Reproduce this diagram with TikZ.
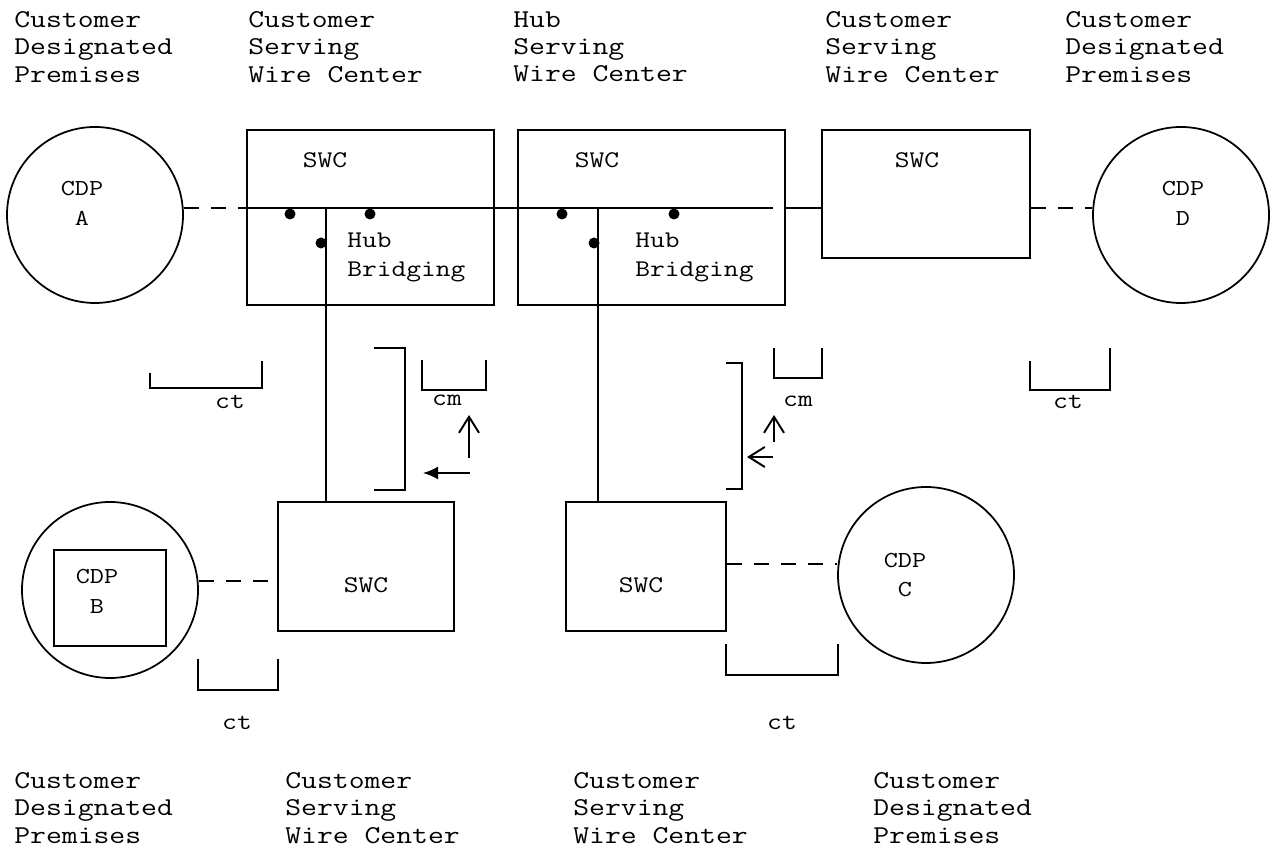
\documentclass[tikz,border=0pt]{standalone}
\usepackage{fontspec}
\setmainfont{Latin Modern Mono}[FakeStretch=1.2]
\usetikzlibrary{arrows.meta}
\setlength{\lineskiplimit}{-20pt}

\tikzset{
  site/.style={draw, line width=1pt, inner sep=0pt},
  cdp/.style={site, circle, minimum size=3.52cm},
  swc/.style={site, rectangle},
  wire/.style={line width=1.1pt},
  dashline/.style={line width=1.1pt, dash pattern=on 0.3cm off 0.24cm},
  tick/.style={line width=1.4pt},
  dot/.style={circle, fill, inner sep=0pt, minimum size=0.22cm},
  head/.style={inner sep=0pt, align=left, anchor=north west,
    font=\fontsize{14.6pt}{15.6pt}\selectfont},
  foot/.style={head},
  txt/.style={inner sep=0pt, align=left, font=\fontsize{13.6pt}{16.5pt}\selectfont},
  cdptxt/.style={inner sep=0pt, align=center, font=\fontsize{13pt}{17pt}\selectfont}
}

\begin{document}
\begin{tikzpicture}[>=latex]
\useasboundingbox (0,0) rectangle (25.5,17.04);

% column headings
\node[head] (hdA) at (0.28,16.82) {Customer\\Designated\\Premises};
\node[head] (hdB) at (4.96,16.82) {Customer\\Serving\\Wire Center};
\node[head] (hdC) at (10.26,16.82) {Hub\\Serving\\Wire Center};
\node[head] (hdD) at (16.5,16.82) {Customer\\Serving\\Wire Center};
\node[head] (hdE) at (21.3,16.82) {Customer\\Designated\\Premises};

\node[foot] (ftA) at (0.28,1.6) {Customer\\Designated\\Premises};
\node[foot] (ftB) at (5.7,1.6) {Customer\\Serving\\Wire Center};
\node[foot] (ftC) at (11.46,1.6) {Customer\\Serving\\Wire Center};
\node[foot] (ftD) at (17.46,1.6) {Customer\\Designated\\Premises};

% premises
\node[cdp] (cdpA) at (1.9,12.74) {};
\node[cdp] (cdpD) at (23.62,12.74) {};
\node[cdp] (cdpB) at (2.2,5.24) {};
\node[cdp] (cdpC) at (18.52,5.54) {};
\node[swc, minimum width=2.24cm, minimum height=1.92cm] (cdpBin) at (2.2,5.08) {};

\node[cdptxt] (txtA) at (1.64,12.98) {CDP\\A};
\node[cdptxt] (txtD) at (23.66,12.98) {CDP\\D};
\node[cdptxt] (txtB) at (1.94,5.22) {CDP\\B};
\node[cdptxt] (txtC) at (18.1,5.54) {CDP\\C};

% wire centers
\node[swc, minimum width=4.94cm, minimum height=3.5cm] (swcTL) at (7.41,12.69) {};
\node[swc, minimum width=5.34cm, minimum height=3.5cm] (swcHub) at (13.03,12.69) {};
\node[swc, minimum width=4.16cm, minimum height=2.56cm] (swcTR) at (18.52,13.16) {};
\node[swc, minimum width=3.52cm, minimum height=2.58cm] (swcBL) at (7.32,5.71) {};
\node[swc, minimum width=3.2cm, minimum height=2.58cm] (swcBR) at (12.92,5.71) {};

\node[txt] (lTL) at (6.5,13.84) {SWC};
\node[txt] (lHub) at (11.94,13.84) {SWC};
\node[txt] (lTR) at (18.34,13.84) {SWC};
\node[txt] (lBL) at (7.32,5.34) {SWC};
\node[txt] (lBR) at (12.82,5.34) {SWC};
\node[txt, anchor=west] (brTL) at (6.94,11.89) {Hub\\Bridging};
\node[txt, anchor=west] (brHub) at (12.7,11.89) {Hub\\Bridging};

% bus
\coordinate (bus) at (0,12.88);
\coordinate (dashEnd) at (5.24,12.88);
\coordinate (busEnd) at (15.46,12.88);
\coordinate (hubA) at (6.52,12.88);
\coordinate (hubB) at (11.96,12.88);

\draw[dashline] (cdpA.east |- bus) -- (dashEnd);
\draw[wire] (swcTL.west |- bus) -- (busEnd);
\draw[wire] (swcHub.east |- bus) -- (swcTR.west |- bus);
\draw[dashline] (swcTR.east |- bus) -- (cdpD.west |- bus);
\draw[wire] (hubA) -- (hubA |- swcBL.north);
\draw[wire] (hubB) -- (hubB |- swcBR.north);
\draw[dashline] (cdpB.east |- 0,5.42) -- (swcBL.west |- 0,5.42);
\draw[dashline] (swcBR.east |- 0,5.76) -- (cdpC.west |- 0,5.76);

% bridge points
\node[dot] (dA1) at (5.8,12.76) {};
\node[dot] (dA2) at (7.4,12.76) {};
\node[dot] (dA3) at (6.42,12.18) {};
\node[dot] (dB1) at (11.24,12.76) {};
\node[dot] (dB2) at (13.48,12.76) {};
\node[dot] (dB3) at (11.88,12.18) {};

% ct and cm marks
\draw[tick] (3.0,9.58) -- (3.0,9.28) -- (5.24,9.28) -- (5.24,9.82);
\node[txt] (ct1) at (4.6,9.0) {ct};
\draw[tick] (20.6,9.82) -- (20.6,9.24) -- (22.2,9.24) -- (22.2,10.08);
\node[txt] (ct2) at (21.36,9.0) {ct};
\draw[tick] (3.96,3.86) -- (3.96,3.24) -- (5.56,3.24) -- (5.56,3.86);
\node[txt] (ct3) at (4.74,2.58) {ct};
\draw[tick] (14.52,4.16) -- (14.52,3.54) -- (16.76,3.54) -- (16.76,4.16);
\node[txt] (ct4) at (15.64,2.58) {ct};

\draw[tick] (7.48,10.08) -- (8.1,10.08) -- (8.1,7.24) -- (7.48,7.24);
\draw[tick] (8.44,9.84) -- (8.44,9.24) -- (9.72,9.24) -- (9.72,9.84);
\node[txt] (cm1) at (8.94,9.04) {cm};
\draw[wire, -{Straight Barb[length=3.2mm, width=4mm]}] (9.38,7.88) -- (9.38,8.74);
\draw[wire, -{Latex[length=3mm, width=2.6mm]}] (9.4,7.58) -- (8.46,7.58);

\draw[tick] (14.52,9.78) -- (14.84,9.78) -- (14.84,7.26) -- (14.52,7.26);
\draw[tick] (15.48,10.08) -- (15.48,9.48) -- (16.44,9.48) -- (16.44,10.08);
\node[txt] (cm2) at (15.96,9.02) {cm};
\draw[wire, -{Straight Barb[length=3.2mm, width=4mm]}] (15.48,8.2) -- (15.48,8.74);
\draw[wire, -{Straight Barb[length=3.2mm, width=4mm]}] (15.46,7.9) -- (14.94,7.9);

\end{tikzpicture}
\end{document}
